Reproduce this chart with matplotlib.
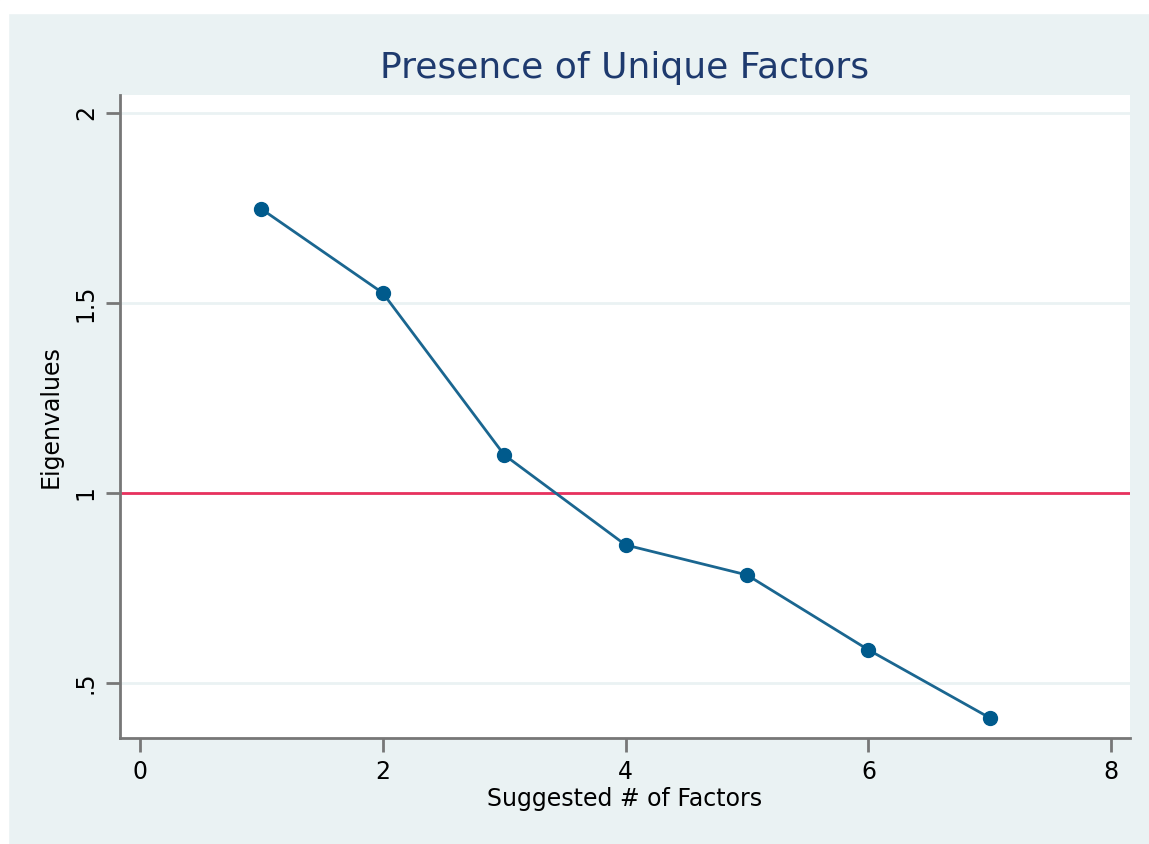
import matplotlib
matplotlib.use("Agg")
import matplotlib.pyplot as plt

# Scree plot data
factors = [1, 2, 3, 4, 5, 6, 7]
eigenvalues = [1.747, 1.526, 1.100, 0.863, 0.784, 0.587, 0.408]
xticks = [0, 2, 4, 6, 8]
yticks = [0.5, 1, 1.5, 2]
ytick_labels = [".5", "1", "1.5", "2"]

bg = "#EAF2F3"
fig = plt.figure(figsize=(11.49, 8.44), dpi=100)
fig.patch.set_facecolor(bg)
# white strips on top and left edge of the screenshot
fig.patches.append(plt.Rectangle((0, 1 - 13 / 844), 1, 13 / 844,
                                 transform=fig.transFigure, color="white", zorder=-1))
fig.patches.append(plt.Rectangle((0, 0), 8 / 1149, 1,
                                 transform=fig.transFigure, color="white", zorder=-1))

ax = fig.add_axes([120 / 1149, 1 - 738 / 844, (1130 - 120) / 1149, (738 - 95) / 844])
ax.set_facecolor("white")

# grid
for y in yticks:
    ax.axhline(y, color="#EAF2F3", lw=2, zorder=0)

ax.axhline(1, color="#E8315E", lw=2, zorder=1)
ax.plot(factors, eigenvalues, color="#1A6690", lw=2, marker="o", ms=10,
        mfc="#005A8C", mec="#005A8C", zorder=3)

ax.set_xlim(-0.165, 8.155)
ax.set_ylim(0.355, 2.047)
ax.set_xticks(xticks)
ax.set_yticks(yticks)
ax.set_yticklabels(ytick_labels, rotation=90, va="center")

for s in ["top", "right"]:
    ax.spines[s].set_visible(False)
for s in ["left", "bottom"]:
    ax.spines[s].set_color("#777777")
    ax.spines[s].set_linewidth(2)
ax.tick_params(axis="both", colors="#777777", length=10, width=2, labelsize=17,
               labelcolor="black", pad=6)

ax.set_xlabel("Suggested # of Factors", fontsize=17, labelpad=2)
ax.set_ylabel("Eigenvalues", fontsize=17, labelpad=8)
ax.set_title("Presence of Unique Factors", fontsize=26, color="#1E3A6E", pad=12)

fig.savefig("out.png", dpi=100, facecolor=bg)
